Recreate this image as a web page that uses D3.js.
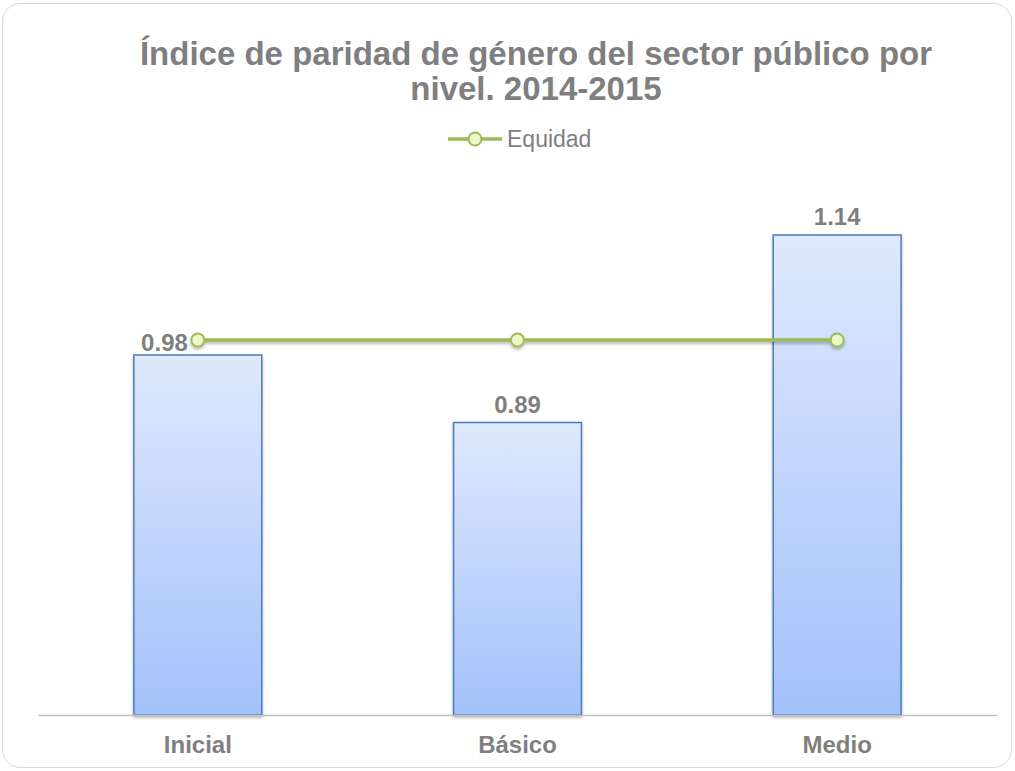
<!DOCTYPE html>
<html>
<head>
  <meta charset="utf-8">
  <title>Índice de paridad de género</title>
  <style>
    body { margin: 0; background: white; font-family: "Liberation Sans", Arial, sans-serif; }
  </style>
  <script src="https://d3js.org/d3.v7.min.js"></script>
</head>
<body>
  <svg id="chart" width="1015" height="771"></svg>
  <script>
    // data
    const categories = ["Inicial", "Básico", "Medio"];
    const values = [0.98, 0.89, 1.14];
    const equidad = [1, 1, 1];
    const titleLines = ["Índice de paridad de género del sector público por", "nivel. 2014-2015"];

    const svg = d3.select("#chart");
    const margin = {top: 190, right: 18, bottom: 56, left: 38};
    const W = 1015, H = 771;
    const width = W - margin.left - margin.right,
          height = H - margin.top - margin.bottom;

    // defs: gradient + shadow
    const defs = svg.append("defs");
    const grad = defs.append("linearGradient")
      .attr("id", "barGrad").attr("x1", 0).attr("y1", 0).attr("x2", 0).attr("y2", 1);
    grad.append("stop").attr("offset", "0%").attr("stop-color", "#dfe9fd");
    grad.append("stop").attr("offset", "100%").attr("stop-color", "#a3c1fa");

    const shadow = defs.append("filter").attr("id", "shadow")
      .attr("x", "-20%").attr("y", "-20%").attr("width", "140%").attr("height", "160%");
    shadow.append("feDropShadow").attr("dx", 0).attr("dy", 2).attr("stdDeviation", 1.5)
      .attr("flood-color", "#000").attr("flood-opacity", 0.3);

    // outer frame
    svg.append("rect")
      .attr("x", 2.5).attr("y", 3.5).attr("width", 1009).attr("height", 764)
      .attr("rx", 18).attr("fill", "white").attr("stroke", "#d9d9d9").attr("stroke-width", 1);

    // title
    svg.append("text")
      .attr("text-anchor", "middle")
      .attr("fill", "#7f7f7f").style("font-size", "33px").style("font-weight", "bold")
      .selectAll("tspan").data(titleLines).join("tspan")
      .attr("x", 536).attr("y", (d, i) => 65 + i * 35).text(d => d);

    const g = svg.append("g").attr("transform", `translate(${margin.left},${margin.top})`);

    const x = d3.scaleBand().domain(categories).range([0, width]).paddingInner(0.6).paddingOuter(0.3);
    const y = d3.scaleLinear().domain([0.5, 1.2]).range([height, 0]);

    // bars
    g.selectAll("rect.bar").data(values).join("rect")
      .attr("class", "bar")
      .attr("x", (d, i) => x(categories[i]))
      .attr("y", d => y(d))
      .attr("width", x.bandwidth())
      .attr("height", d => height - y(d))
      .attr("fill", "url(#barGrad)")
      .attr("stroke", "#4a7ebb").attr("stroke-width", 1.5)
      .attr("filter", "url(#shadow)");

    // x axis
    const xAxis = g.append("g").attr("transform", `translate(0,${height})`)
      .call(d3.axisBottom(x).tickSize(0).tickPadding(21));
    xAxis.select(".domain").attr("stroke", "#bfbfbf").attr("stroke-width", 1.5);
    xAxis.selectAll("text")
      .attr("fill", "#7f7f7f").style("font-size", "24px").style("font-weight", "bold")
      .style("font-family", "'Liberation Sans', Arial, sans-serif");

    // data labels
    g.selectAll("text.lbl").data(values).join("text")
      .attr("class", "lbl")
      .attr("x", (d, i) => i === 0 ? x(categories[i]) + x.bandwidth() / 2 - 10 : x(categories[i]) + x.bandwidth() / 2)
      .attr("y", (d, i) => i === 0 ? y(d) - 4 : y(d) - 10)
      .attr("text-anchor", (d, i) => i === 0 ? "end" : "middle")
      .attr("fill", "#7f7f7f").style("font-size", "24px").style("font-weight", "bold")
      .text(d => d.toFixed(2));

    // equidad line
    const cx = (d, i) => x(categories[i]) + x.bandwidth() / 2;
    const line = d3.line().x(cx).y(d => y(d));
    const lineG = g.append("g").attr("filter", "url(#shadow)");
    lineG.append("path").datum(equidad)
      .attr("d", line).attr("fill", "none")
      .attr("stroke", "#9bbb59").attr("stroke-width", 3.5);
    lineG.selectAll("circle").data(equidad).join("circle")
      .attr("cx", cx).attr("cy", d => y(d)).attr("r", 6.5)
      .attr("fill", "#ebf7c9").attr("stroke", "#9bbb59").attr("stroke-width", 2);

    // legend
    const lg = svg.append("g").attr("transform", "translate(448,139)");
    lg.append("line").attr("x1", 0).attr("x2", 54).attr("y1", 0).attr("y2", 0)
      .attr("stroke", "#9bbb59").attr("stroke-width", 3.5);
    lg.append("circle").attr("cx", 27).attr("cy", 0).attr("r", 6.5)
      .attr("fill", "#ebf7c9").attr("stroke", "#9bbb59").attr("stroke-width", 2);
    lg.append("text").attr("x", 59).attr("y", 8)
      .attr("fill", "#7f7f7f").style("font-size", "23px").text("Equidad");
  </script>
</body>
</html>
